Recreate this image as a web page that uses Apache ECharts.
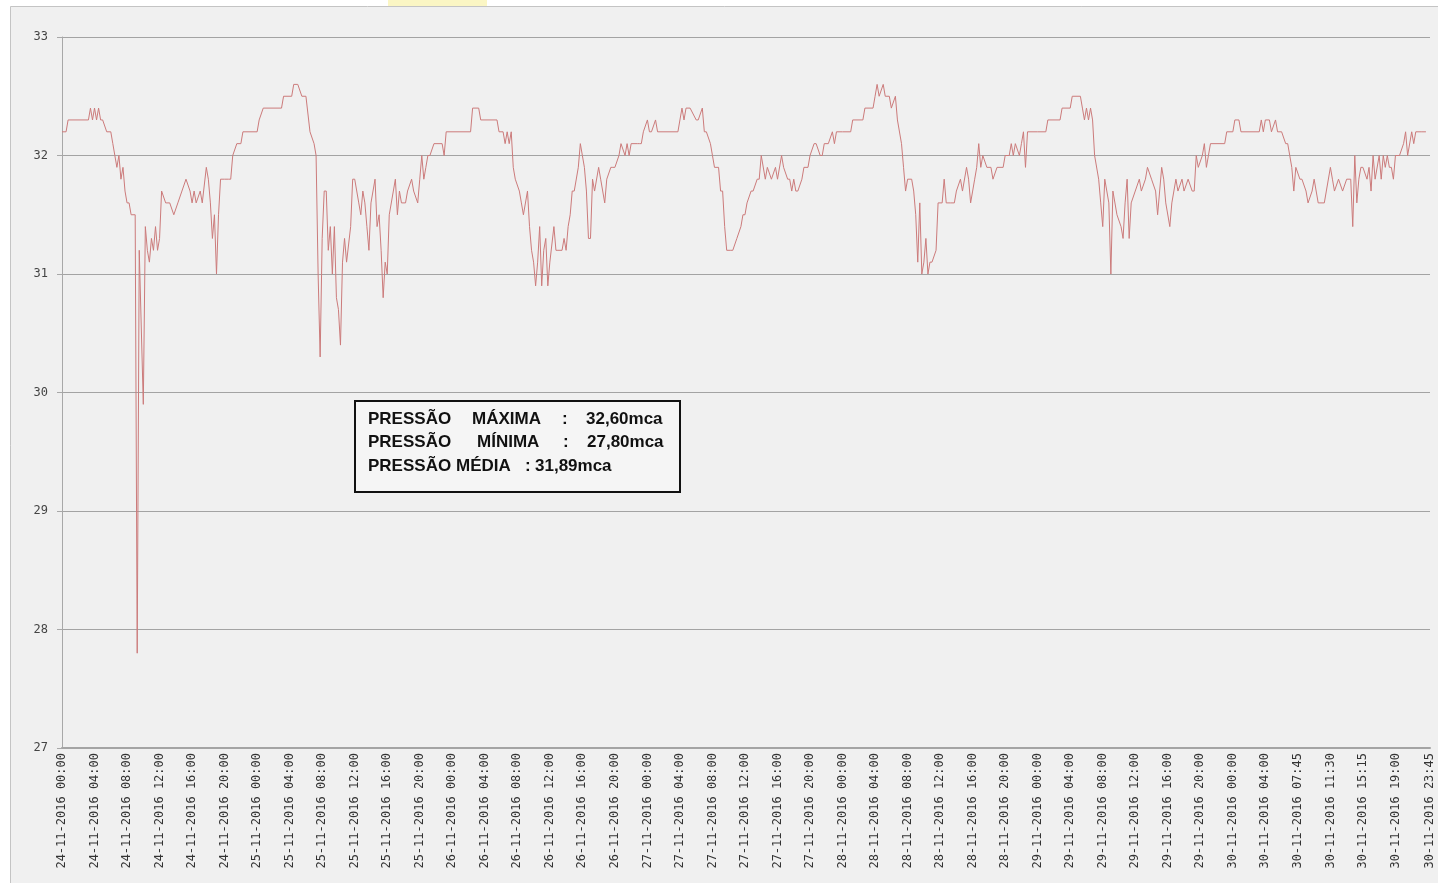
<!DOCTYPE html>
<html>
<head>
<meta charset="utf-8">
<script src="https://cdn.jsdelivr.net/npm/echarts@6/dist/echarts.min.js"></script>
<style>
html,body{margin:0;padding:0;background:#ffffff;}
#chart{width:1438px;height:883px;}
</style>
</head>
<body>
<div id="chart"></div>
<script>
// Tick labels of the x axis (one every 16 samples, plus the last sample)
const tickLabels = [
  '24-11-2016 00:00','24-11-2016 04:00','24-11-2016 08:00','24-11-2016 12:00','24-11-2016 16:00','24-11-2016 20:00',
  '25-11-2016 00:00','25-11-2016 04:00','25-11-2016 08:00','25-11-2016 12:00','25-11-2016 16:00','25-11-2016 20:00',
  '26-11-2016 00:00','26-11-2016 04:00','26-11-2016 08:00','26-11-2016 12:00','26-11-2016 16:00','26-11-2016 20:00',
  '27-11-2016 00:00','27-11-2016 04:00','27-11-2016 08:00','27-11-2016 12:00','27-11-2016 16:00','27-11-2016 20:00',
  '28-11-2016 00:00','28-11-2016 04:00','28-11-2016 08:00','28-11-2016 12:00','28-11-2016 16:00','28-11-2016 20:00',
  '29-11-2016 00:00','29-11-2016 04:00','29-11-2016 08:00','29-11-2016 12:00','29-11-2016 16:00','29-11-2016 20:00',
  '30-11-2016 00:00','30-11-2016 04:00','30-11-2016 07:45','30-11-2016 11:30','30-11-2016 15:15','30-11-2016 19:00',
  '30-11-2016 23:45'
];
const sampleCount = 674;   // samples on the category axis
const tickStep = 16;

// Pressure readings (mca) as [sample index, value]
const day24 = [[0,32.2],[2,32.2],[3,32.3],[13,32.3],[14,32.4],[15,32.3],[16,32.4],[17,32.3],[18,32.4],[19,32.3],[20,32.3],[22,32.2],[24,32.2],[25,32.1],[26,32.0],[27,31.9],[28,32.0],[29,31.8],[30,31.9],[31,31.7],[32,31.6],[33,31.6],[34,31.5],[36,31.5],[37,27.8],[38,31.2],[40,29.9],[41,31.4],[42,31.2],[43,31.1],[44,31.3],[45,31.2],[46,31.4],[47,31.2],[48,31.3],[49,31.7],[51,31.6],[53,31.6],[55,31.5],[57,31.6],[59,31.7],[61,31.8],[63,31.7],[64,31.6],[65,31.7],[66,31.6],[68,31.7],[69,31.6],[71,31.9],[72,31.8],[73,31.6],[74,31.3],[75,31.5],[76,31.0],[77,31.5],[78,31.8],[80,31.8],[82,31.8],[83,31.8],[84,32.0],[86,32.1],[88,32.1],[89,32.2],[92,32.2]];
const day25 = [[96,32.2],[97,32.3],[99,32.4],[108,32.4],[109,32.5],[113,32.5],[114,32.6],[116,32.6],[118,32.5],[120,32.5],[122,32.2],[124,32.1],[125,32.0],[126,31.0],[127,30.3],[128,31.3],[129,31.7],[130,31.7],[131,31.2],[132,31.4],[133,31.0],[134,31.4],[135,30.8],[136,30.7],[137,30.4],[138,31.1],[139,31.3],[140,31.1],[142,31.4],[143,31.8],[144,31.8],[146,31.6],[147,31.5],[148,31.7],[149,31.6],[150,31.4],[151,31.2],[152,31.6],[154,31.8],[155,31.4],[156,31.5],[157,31.2],[158,30.8],[159,31.1],[160,31.0],[161,31.5],[163,31.7],[164,31.8],[165,31.5],[166,31.7],[167,31.6],[169,31.6],[170,31.7],[172,31.8],[173,31.7],[175,31.6],[176,31.8],[177,32.0],[178,31.8],[179,31.9],[180,32.0],[181,32.0],[183,32.1],[187,32.1],[188,32.0],[189,32.2]];
const day26 = [[201,32.2],[202,32.4],[205,32.4],[206,32.3],[214,32.3],[215,32.2],[217,32.2],[218,32.1],[219,32.2],[220,32.1],[221,32.2],[222,31.9],[223,31.8],[225,31.7],[226,31.6],[227,31.5],[229,31.7],[230,31.4],[231,31.2],[232,31.1],[233,30.9],[234,31.1],[235,31.4],[236,30.9],[237,31.2],[238,31.3],[239,30.9],[240,31.1],[242,31.4],[243,31.2],[244,31.2],[246,31.2],[247,31.3],[248,31.2],[249,31.4],[250,31.5],[251,31.7],[252,31.7],[254,31.9],[255,32.1],[256,32.0],[257,31.9],[258,31.7],[259,31.3],[260,31.3],[261,31.8],[262,31.7],[264,31.9],[265,31.8],[267,31.6],[268,31.8],[270,31.9],[271,31.9],[272,31.9],[274,32.0],[275,32.1],[277,32.0],[278,32.1],[279,32.0],[280,32.1],[283,32.1],[284,32.1],[285,32.1],[286,32.2]];
const day27 = [[288,32.3],[289,32.2],[290,32.2],[292,32.3],[293,32.2],[303,32.2],[305,32.4],[306,32.3],[307,32.4],[309,32.4],[312,32.3],[313,32.3],[315,32.4],[316,32.2],[317,32.2],[319,32.1],[320,32.0],[321,31.9],[323,31.9],[324,31.7],[325,31.7],[326,31.4],[327,31.2],[329,31.2],[330,31.2],[332,31.3],[334,31.4],[335,31.5],[336,31.5],[337,31.6],[339,31.7],[340,31.7],[342,31.8],[343,31.8],[344,32.0],[346,31.8],[347,31.9],[349,31.8],[351,31.9],[352,31.8],[354,32.0],[355,31.9],[357,31.8],[358,31.8],[359,31.7],[360,31.8],[361,31.7],[362,31.7],[364,31.8],[365,31.9],[367,31.9],[368,32.0],[370,32.1],[371,32.1],[373,32.0],[374,32.0],[375,32.1],[377,32.1],[379,32.2],[380,32.1],[381,32.2]];
const day28 = [[384,32.2],[388,32.2],[389,32.3],[394,32.3],[395,32.4],[399,32.4],[400,32.5],[401,32.6],[402,32.5],[404,32.6],[405,32.5],[407,32.5],[408,32.4],[410,32.5],[411,32.3],[413,32.1],[414,31.9],[415,31.7],[416,31.8],[418,31.8],[419,31.7],[420,31.5],[421,31.1],[422,31.6],[423,31.0],[424,31.1],[425,31.3],[426,31.0],[427,31.1],[428,31.1],[430,31.2],[431,31.6],[433,31.6],[434,31.8],[435,31.6],[437,31.6],[439,31.6],[440,31.7],[442,31.8],[443,31.7],[445,31.9],[446,31.8],[447,31.6],[448,31.7],[449,31.8],[450,31.9],[451,32.1],[452,31.9],[453,32.0],[455,31.9],[457,31.9],[458,31.8],[460,31.9],[463,31.9],[464,32.0],[466,32.0],[467,32.1],[468,32.0],[469,32.1],[471,32.0],[472,32.1],[473,32.2],[474,31.9],[475,32.2]];
const day29 = [[480,32.2],[484,32.2],[485,32.3],[491,32.3],[492,32.4],[496,32.4],[497,32.5],[501,32.5],[502,32.4],[503,32.3],[504,32.4],[505,32.3],[506,32.4],[507,32.3],[508,32.0],[510,31.8],[511,31.6],[512,31.4],[513,31.8],[515,31.6],[516,31.0],[517,31.7],[519,31.5],[521,31.4],[522,31.3],[523,31.6],[524,31.8],[525,31.3],[526,31.6],[528,31.7],[530,31.8],[531,31.7],[533,31.8],[534,31.9],[536,31.8],[538,31.7],[539,31.5],[541,31.9],[542,31.8],[543,31.6],[545,31.4],[546,31.6],[548,31.8],[549,31.7],[551,31.8],[552,31.7],[554,31.8],[556,31.7],[557,31.7],[558,32.0],[559,31.9],[561,32.0],[562,32.1],[563,31.9],[564,32.0],[565,32.1],[572,32.1],[573,32.2]];
const day30 = [[576,32.2],[577,32.3],[579,32.3],[580,32.2],[589,32.2],[590,32.3],[591,32.2],[592,32.3],[594,32.3],[595,32.2],[597,32.3],[598,32.2],[600,32.2],[602,32.1],[603,32.1],[604,32.0],[605,31.9],[606,31.7],[607,31.9],[609,31.8],[610,31.8],[612,31.7],[613,31.6],[615,31.7],[616,31.8],[618,31.6],[621,31.6],[622,31.7],[624,31.9],[625,31.8],[626,31.7],[628,31.8],[630,31.7],[632,31.8],[634,31.8],[635,31.4],[636,32.0],[637,31.6],[638,31.8],[639,31.9],[640,31.9],[642,31.8],[643,31.9],[644,31.7],[645,32.0],[646,31.8],[648,32.0],[649,31.8],[650,32.0],[651,31.9],[652,32.0],[653,31.9],[654,31.9],[655,31.8],[656,32.0],[658,32.0],[660,32.1],[661,32.2],[662,32.0],[664,32.2],[665,32.1],[666,32.2],[669,32.2],[671,32.2]];

// Summary box text
const statLines = [
  ['PRESSÃO', 'MÁXIMA', ':', '32,60mca'],
  ['PRESSÃO', 'MÍNIMA', ':', '27,80mca'],
  ['PRESSÃO', 'MÉDIA', ':', '31,89mca']
];

// y axis range
const yMin = 27, yMax = 33, yStep = 1;

// ---- build ----
const lastIndex = sampleCount - 1;
const tickIndexOf = i => (i === tickLabels.length - 1 ? lastIndex : i * tickStep);
const categories = new Array(sampleCount).fill('');
tickLabels.forEach((t, i) => { categories[tickIndexOf(i)] = t; });
const pressure = [].concat(day24, day25, day26, day27, day28, day29, day30);

const chart = echarts.init(document.getElementById('chart'), null, {renderer: 'canvas'});

const pieceX = [[368, 472, 562, 586], [368, 477, 563, 587], [368, 456, 525, 535]];
const lineY = [419, 442.5, 466];
const boxTexts = [];
statLines.forEach((parts, r) => {
  parts.forEach((p, c) => {
    boxTexts.push({
      type: 'text', x: pieceX[r][c], y: lineY[r], z: 101, silent: true,
      style: {text: p, fill: '#111', font: 'bold 17px "Liberation Sans", Arial, sans-serif', verticalAlign: 'middle', align: 'left'}
    });
  });
});

chart.setOption({
  animation: false,
  backgroundColor: '#ffffff',
  graphic: [
    {type: 'rect', z: -10, silent: true, shape: {x: 10.5, y: 6.5, width: 1440, height: 890},
      style: {fill: '#f0f0f0', stroke: '#c4c4c4', lineWidth: 1}},
    {type: 'rect', z: -9, silent: true, shape: {x: 388, y: 0, width: 99, height: 6},
      style: {fill: '#fbf6c4'}},
    {type: 'rect', z: 100, silent: true, shape: {x: 355, y: 401, width: 325, height: 91},
      style: {fill: '#f5f5f5', stroke: '#111111', lineWidth: 2}},
    ...boxTexts
  ],
  grid: {left: 62, right: 8, top: 37, bottom: 135, containLabel: false},
  xAxis: {
    type: 'category',
    data: categories,
    boundaryGap: false,
    axisLine: {show: true, lineStyle: {color: '#a4a4a4', width: 2}},
    axisTick: {show: false},
    splitLine: {show: false},
    axisLabel: {
      interval: (index, value) => value !== '',
      rotate: 90,
      margin: 5,
      color: '#333',
      fontSize: 12,
      fontFamily: '"DejaVu Sans Mono", monospace'
    }
  },
  yAxis: {
    type: 'value',
    min: yMin, max: yMax, interval: yStep,
    axisLine: {show: true, lineStyle: {color: '#a8a8a8', width: 1}},
    axisTick: {show: true, length: 5, lineStyle: {color: '#a8a8a8'}},
    splitLine: {show: true, lineStyle: {color: '#a3a3a3', width: 1}},
    axisLabel: {color: '#444', fontSize: 12, margin: 14, fontFamily: '"DejaVu Sans Mono", monospace'}
  },
  series: [{
    type: 'line',
    data: pressure,
    showSymbol: false,
    symbol: 'none',
    lineStyle: {color: '#cc7b7b', width: 1},
    z: 5
  }]
});
</script>
</body>
</html>
